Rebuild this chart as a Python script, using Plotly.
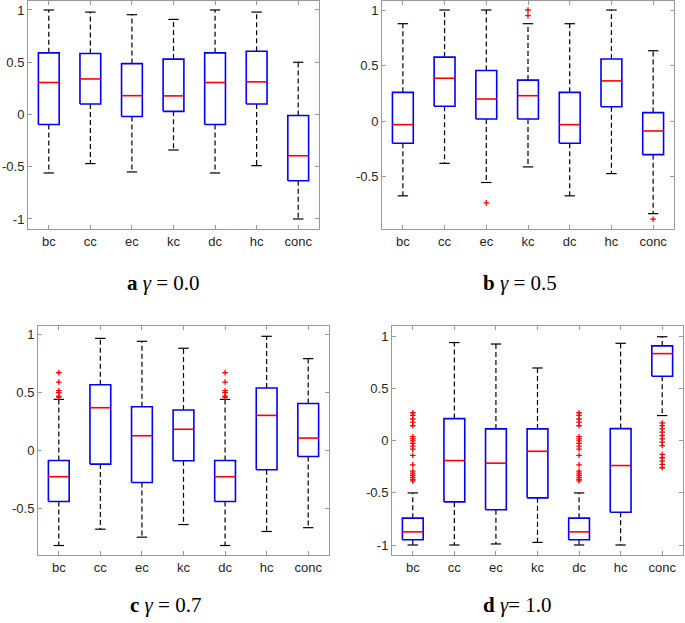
import plotly.graph_objects as go

categories = ["bc", "cc", "ec", "kc", "dc", "hc", "conc"]
positions = [1, 2, 3, 4, 5, 6, 7]

# panel a: gamma = 0.0
a_hi = [1.00, 0.98, 0.955, 0.91, 1.00, 0.98, 0.50]
a_q3 = [0.59, 0.583, 0.487, 0.53, 0.59, 0.605, -0.01]
a_med = [0.306, 0.34, 0.18, 0.178, 0.306, 0.312, -0.395]
a_q1 = [-0.096, 0.10, -0.02, 0.03, -0.096, 0.10, -0.634]
a_lo = [-0.56, -0.47, -0.55, -0.34, -0.56, -0.49, -1.00]
a_out = [[], [], [], [], [], [], []]

# panel b: gamma = 0.5
b_hi = [0.877, 1.00, 1.00, 0.877, 0.877, 1.00, 0.634]
b_q3 = [0.26, 0.577, 0.456, 0.37, 0.26, 0.56, 0.078]
b_med = [-0.03, 0.387, 0.20, 0.23, -0.03, 0.363, -0.087]
b_q1 = [-0.198, 0.135, 0.02, 0.02, -0.198, 0.13, -0.30]
b_lo = [-0.67, -0.378, -0.55, -0.41, -0.67, -0.47, -0.83]
b_out = [[], [], [-0.733], [1.0, 0.95], [], [], [-0.88]]

# panel c: gamma = 0.7
c_hi = [0.438, 0.965, 0.94, 0.88, 0.438, 0.983, 0.79]
c_q3 = [-0.09, 0.565, 0.375, 0.346, -0.09, 0.536, 0.403]
c_med = [-0.23, 0.366, 0.124, 0.18, -0.23, 0.30, 0.104]
c_q1 = [-0.444, -0.121, -0.28, -0.092, -0.444, -0.17, -0.055]
c_lo = [-0.824, -0.683, -0.752, -0.643, -0.824, -0.703, -0.67]
c_bc_out = [0.669, 0.588, 0.513, 0.496, 0.467, 0.455]
c_out = [c_bc_out, [], [], [], c_bc_out, [], []]

# panel d: gamma = 1.0
d_hi = [-0.50, 0.944, 0.93, 0.70, -0.50, 0.937, 1.00]
d_q3 = [-0.742, 0.214, 0.115, 0.115, -0.742, 0.118, 0.912]
d_med = [-0.874, -0.189, -0.214, -0.10, -0.874, -0.237, 0.838]
d_q1 = [-0.95, -0.586, -0.662, -0.547, -0.95, -0.685, 0.62]
d_lo = [-1.00, -1.00, -0.99, -0.975, -1.00, -1.00, 0.243]
d_bc_out = [0.27, 0.245, 0.21, 0.18, 0.145, 0.04, 0.02, 0.0, -0.025, -0.05,
            -0.08, -0.14, -0.23, -0.29, -0.31, -0.33, -0.35, -0.37, -0.385]
d_conc_out = [0.172, 0.146, 0.115, 0.083, 0.051, 0.019, -0.013, -0.045,
              -0.13, -0.162, -0.194, -0.226, -0.258]
d_out = [d_bc_out, [], [], [], d_bc_out, [], d_conc_out]

captions = ["<b>a</b> <i>γ</i> = 0.0", "<b>b</b> <i>γ</i> = 0.5",
            "<b>c</b> <i>γ</i> = 0.7", "<b>d</b> <i>γ</i>= 1.0"]

W, H = 685, 623
BOX_HALF = 0.25
CAP_HALF = 0.125

panels = [
    dict(hi=a_hi, q3=a_q3, med=a_med, q1=a_q1, lo=a_lo, out=a_out,
         xpx=(28, 319), ypx=(1, 229), yr=(-1.096, 1.086),
         yt=[-1, -0.5, 0, 0.5, 1], cap=(163, 283)),
    dict(hi=b_hi, q3=b_q3, med=b_med, q1=b_q1, lo=b_lo, out=b_out,
         xpx=(382, 674), ypx=(1, 229), yr=(-0.968, 1.081),
         yt=[-0.5, 0, 0.5, 1], cap=(520, 283)),
    dict(hi=c_hi, q3=c_q3, med=c_med, q1=c_q1, lo=c_lo, out=c_out,
         xpx=(38, 329), ypx=(326, 555), yr=(-0.906, 1.072),
         yt=[-0.5, 0, 0.5, 1], cap=(165, 605)),
    dict(hi=d_hi, q3=d_q3, med=d_med, q1=d_q1, lo=d_lo, out=d_out,
         xpx=(392, 683), ypx=(326, 555), yr=(-1.096, 1.103),
         yt=[-1, -0.5, 0, 0.5, 1], cap=(517, 605)),
]

fig = go.Figure()
layout = dict(
    width=W, height=H, margin=dict(l=0, r=0, t=0, b=0),
    paper_bgcolor="white", plot_bgcolor="white", showlegend=False,
    font=dict(family="Liberation Sans, Arial, sans-serif", size=13, color="#262626"),
)
annotations = []

AX_COLOR = "#9a9a9a"

for k, p in enumerate(panels):
    n = "" if k == 0 else str(k + 1)
    xa, ya = "x" + n, "y" + n
    # whiskers
    wx, wy = [], []
    for i, x in enumerate(positions):
        wx += [x, x, None, x, x, None]
        wy += [p["q3"][i], p["hi"][i], None, p["q1"][i], p["lo"][i], None]
    fig.add_trace(go.Scatter(x=wx, y=wy, mode="lines", xaxis=xa, yaxis=ya,
                             line=dict(color="black", width=1.2, dash="5px,3px"),
                             hoverinfo="skip"))
    # caps
    cx, cy = [], []
    for i, x in enumerate(positions):
        cx += [x - CAP_HALF, x + CAP_HALF, None, x - CAP_HALF, x + CAP_HALF, None]
        cy += [p["hi"][i], p["hi"][i], None, p["lo"][i], p["lo"][i], None]
    fig.add_trace(go.Scatter(x=cx, y=cy, mode="lines", xaxis=xa, yaxis=ya,
                             line=dict(color="black", width=1.2), hoverinfo="skip"))
    # boxes
    bx, by = [], []
    for i, x in enumerate(positions):
        bx += [x - BOX_HALF, x + BOX_HALF, x + BOX_HALF, x - BOX_HALF, x - BOX_HALF, None]
        by += [p["q1"][i], p["q1"][i], p["q3"][i], p["q3"][i], p["q1"][i], None]
    fig.add_trace(go.Scatter(x=bx, y=by, mode="lines", xaxis=xa, yaxis=ya,
                             fill="toself", fillcolor="rgba(255,255,255,1)",
                             line=dict(color="#0000ff", width=1.6), hoverinfo="skip"))
    # medians
    mx, my = [], []
    for i, x in enumerate(positions):
        mx += [x - BOX_HALF, x + BOX_HALF, None]
        my += [p["med"][i], p["med"][i], None]
    fig.add_trace(go.Scatter(x=mx, y=my, mode="lines", xaxis=xa, yaxis=ya,
                             line=dict(color="#ff0000", width=1.6), hoverinfo="skip"))
    # outliers
    ox, oy = [], []
    for i, x in enumerate(positions):
        for v in p["out"][i]:
            ox.append(x)
            oy.append(v)
    if ox:
        fig.add_trace(go.Scatter(x=ox, y=oy, mode="markers", xaxis=xa, yaxis=ya,
                                 marker=dict(symbol="cross-thin", size=4,
                                             line=dict(color="#ff0000", width=1.3)),
                                 hoverinfo="skip"))

    x0, x1 = p["xpx"]
    t, b = p["ypx"]
    layout["xaxis" + n] = dict(
        domain=[x0 / W, x1 / W], range=[0.5, 7.5], anchor=ya,
        tickvals=positions, ticktext=categories,
        showline=True, linecolor=AX_COLOR, linewidth=1, mirror="ticks",
        ticks="inside", ticklen=4, tickcolor=AX_COLOR,
        showgrid=False, zeroline=False, fixedrange=True,
        tickfont=dict(size=13, color="#262626"),
    )
    layout["yaxis" + n] = dict(
        domain=[1 - b / H, 1 - t / H], range=list(p["yr"]), anchor=xa,
        tickvals=p["yt"], ticktext=[("%g" % v) for v in p["yt"]],
        showline=True, linecolor=AX_COLOR, linewidth=1, mirror="ticks",
        ticks="inside", ticklen=4, tickcolor=AX_COLOR,
        showgrid=False, zeroline=False, fixedrange=True,
        tickfont=dict(size=13, color="#262626"),
    )
    cxp, cyp = p["cap"]
    annotations.append(dict(
        text=captions[k], x=cxp / W, y=1 - cyp / H, xref="paper", yref="paper",
        xanchor="center", yanchor="middle", showarrow=False,
        font=dict(family="Liberation Serif, Times New Roman, serif", size=21, color="black"),
    ))

layout["annotations"] = annotations
fig.update_layout(**layout)
fig.write_html("out.html", config={"displayModeBar": False},
               post_script="document.body.style.margin='0';document.body.style.overflow='hidden';")
